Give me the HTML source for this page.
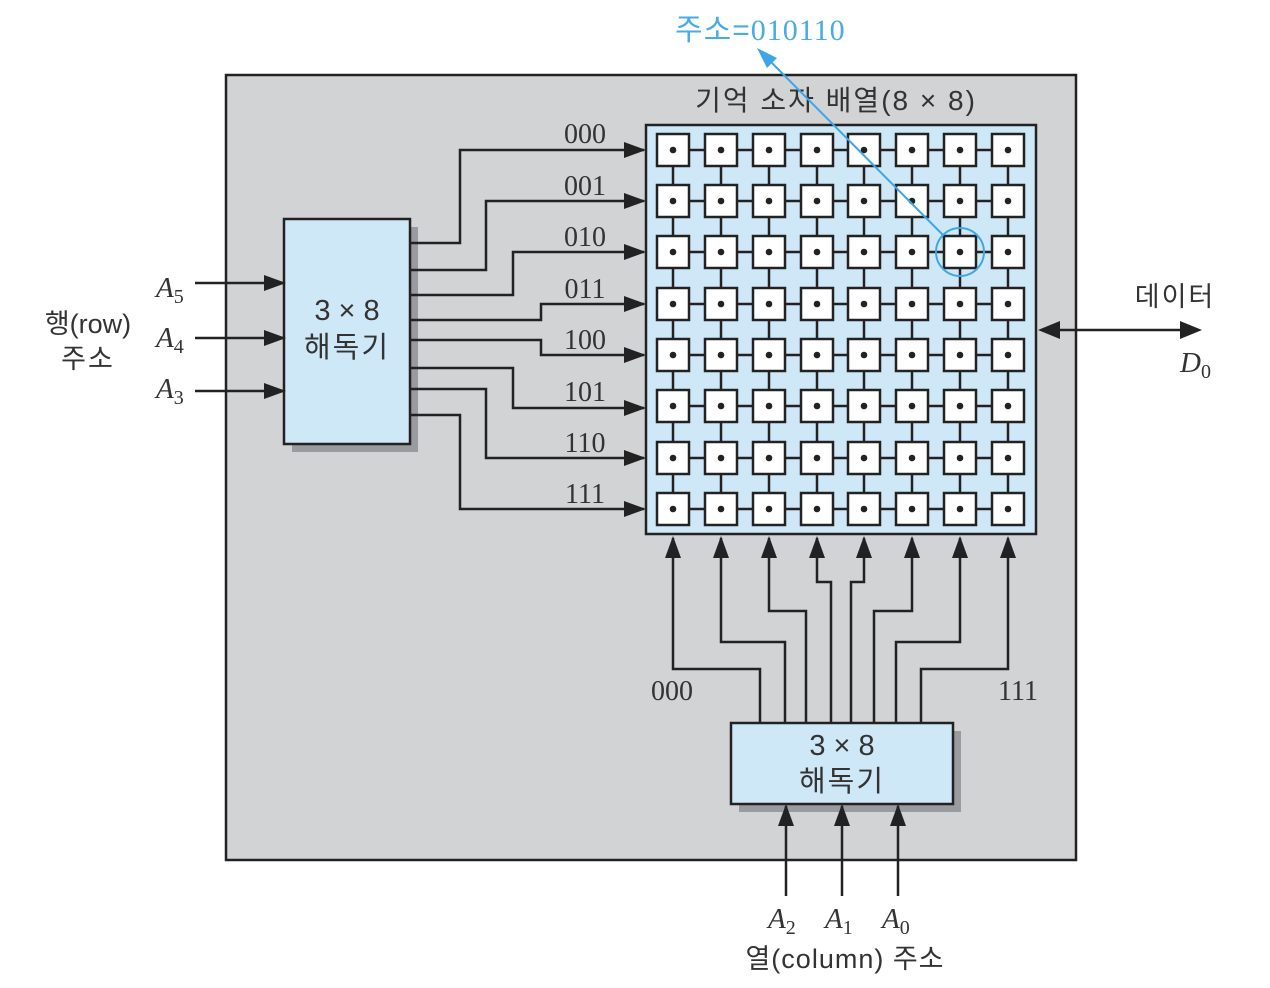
<!DOCTYPE html>
<html><head><meta charset="utf-8"><style>
html,body{margin:0;padding:0;background:#fff;}
svg{display:block;}
text{font-family:"Liberation Sans","Noto Sans CJK KR",sans-serif;}
.serif text, text.serif, tspan.serif{font-family:"Liberation Serif","Noto Serif CJK SC",serif;}
</style></head><body>
<svg width="1270" height="988" viewBox="0 0 1270 988" xmlns="http://www.w3.org/2000/svg">
<defs>
<marker id="ar" markerWidth="22" markerHeight="18" refX="20" refY="9" orient="auto" markerUnits="userSpaceOnUse" viewBox="0 0 22 18"><path d="M0,1 L22,9 L0,17 z" fill="#222"/></marker>
<g id="cell"><rect x="-16" y="-16" width="32" height="32" fill="#fff" stroke="#222" stroke-width="2.5"/><circle cx="0" cy="0" r="3.3" fill="#222"/></g>
</defs>
<!-- outer box -->
<rect x="226" y="75" width="850" height="785" fill="#d2d3d5" stroke="#222" stroke-width="2.5"/>
<text x="836" y="110" font-size="28" fill="#333" text-anchor="middle" letter-spacing="2">기억 소자 배열(8 × 8)</text>
<!-- grid -->
<rect x="646" y="125" width="390" height="409" fill="#cfe8f8" stroke="#222" stroke-width="2.5"/>
<g stroke="#222" stroke-width="2.5">
<line x1="673" y1="150" x2="1008" y2="150"/><line x1="673" y1="201" x2="1008" y2="201"/><line x1="673" y1="252" x2="1008" y2="252"/><line x1="673" y1="304" x2="1008" y2="304"/><line x1="673" y1="355" x2="1008" y2="355"/><line x1="673" y1="406" x2="1008" y2="406"/><line x1="673" y1="458" x2="1008" y2="458"/><line x1="673" y1="509" x2="1008" y2="509"/>
<line x1="673" y1="150" x2="673" y2="509"/><line x1="721" y1="150" x2="721" y2="509"/><line x1="769" y1="150" x2="769" y2="509"/><line x1="817" y1="150" x2="817" y2="509"/><line x1="864" y1="150" x2="864" y2="509"/><line x1="912" y1="150" x2="912" y2="509"/><line x1="960" y1="150" x2="960" y2="509"/><line x1="1008" y1="150" x2="1008" y2="509"/>
</g>
<g>
<use href="#cell" x="673" y="150"/><use href="#cell" x="721" y="150"/><use href="#cell" x="769" y="150"/><use href="#cell" x="817" y="150"/><use href="#cell" x="864" y="150"/><use href="#cell" x="912" y="150"/><use href="#cell" x="960" y="150"/><use href="#cell" x="1008" y="150"/>
<use href="#cell" x="673" y="201"/><use href="#cell" x="721" y="201"/><use href="#cell" x="769" y="201"/><use href="#cell" x="817" y="201"/><use href="#cell" x="864" y="201"/><use href="#cell" x="912" y="201"/><use href="#cell" x="960" y="201"/><use href="#cell" x="1008" y="201"/>
<use href="#cell" x="673" y="252"/><use href="#cell" x="721" y="252"/><use href="#cell" x="769" y="252"/><use href="#cell" x="817" y="252"/><use href="#cell" x="864" y="252"/><use href="#cell" x="912" y="252"/><use href="#cell" x="960" y="252"/><use href="#cell" x="1008" y="252"/>
<use href="#cell" x="673" y="304"/><use href="#cell" x="721" y="304"/><use href="#cell" x="769" y="304"/><use href="#cell" x="817" y="304"/><use href="#cell" x="864" y="304"/><use href="#cell" x="912" y="304"/><use href="#cell" x="960" y="304"/><use href="#cell" x="1008" y="304"/>
<use href="#cell" x="673" y="355"/><use href="#cell" x="721" y="355"/><use href="#cell" x="769" y="355"/><use href="#cell" x="817" y="355"/><use href="#cell" x="864" y="355"/><use href="#cell" x="912" y="355"/><use href="#cell" x="960" y="355"/><use href="#cell" x="1008" y="355"/>
<use href="#cell" x="673" y="406"/><use href="#cell" x="721" y="406"/><use href="#cell" x="769" y="406"/><use href="#cell" x="817" y="406"/><use href="#cell" x="864" y="406"/><use href="#cell" x="912" y="406"/><use href="#cell" x="960" y="406"/><use href="#cell" x="1008" y="406"/>
<use href="#cell" x="673" y="458"/><use href="#cell" x="721" y="458"/><use href="#cell" x="769" y="458"/><use href="#cell" x="817" y="458"/><use href="#cell" x="864" y="458"/><use href="#cell" x="912" y="458"/><use href="#cell" x="960" y="458"/><use href="#cell" x="1008" y="458"/>
<use href="#cell" x="673" y="509"/><use href="#cell" x="721" y="509"/><use href="#cell" x="769" y="509"/><use href="#cell" x="817" y="509"/><use href="#cell" x="864" y="509"/><use href="#cell" x="912" y="509"/><use href="#cell" x="960" y="509"/><use href="#cell" x="1008" y="509"/>
</g>
<!-- row decoder -->
<rect x="292" y="227" width="126" height="225" fill="#9a9b9e"/>
<rect x="284" y="219" width="126" height="225" fill="#cfe8f8" stroke="#222" stroke-width="2.5"/>
<text x="347" y="320" font-size="29" fill="#333" text-anchor="middle">3 × 8</text>
<text x="347" y="357" font-size="29" fill="#333" text-anchor="middle" letter-spacing="2">해독기</text>
<g fill="none" stroke="#222" stroke-width="2.5" marker-end="url(#ar)">
<polyline points="410,243 460,243 460,150 644,150"/>
<polyline points="410,270 486,270 486,201 644,201"/>
<polyline points="410,295 513,295 513,252 644,252"/>
<polyline points="410,320 541,320 541,304 644,304"/>
<polyline points="410,340 541,340 541,355 644,355"/>
<polyline points="410,368 513,368 513,408 644,408"/>
<polyline points="410,389 486,389 486,458 644,458"/>
<polyline points="410,415 460,415 460,509 644,509"/>
<line x1="195" y1="283" x2="284" y2="283"/>
<line x1="195" y1="338" x2="284" y2="338"/>
<line x1="195" y1="391" x2="284" y2="391"/>
</g>
<g class="serif" font-size="28" fill="#333" text-anchor="middle">
<text x="585" y="143">000</text><text x="585" y="195">001</text><text x="585" y="246">010</text><text x="585" y="298">011</text><text x="585" y="349">100</text><text x="585" y="401">101</text><text x="585" y="452">110</text><text x="585" y="503">111</text>
<text x="672" y="700">000</text><text x="1018" y="700">111</text>
</g>
<g class="serif" font-size="29" fill="#333" font-style="italic">
<text x="156" y="297">A<tspan font-size="20" font-style="normal" dy="6">5</tspan></text>
<text x="156" y="347">A<tspan font-size="20" font-style="normal" dy="6">4</tspan></text>
<text x="156" y="398">A<tspan font-size="20" font-style="normal" dy="6">3</tspan></text>
<text x="768" y="928">A<tspan font-size="20" font-style="normal" dy="6">2</tspan></text>
<text x="825" y="928">A<tspan font-size="20" font-style="normal" dy="6">1</tspan></text>
<text x="882" y="928">A<tspan font-size="20" font-style="normal" dy="6">0</tspan></text>
<text x="1180" y="372">D<tspan font-size="20" font-style="normal" dy="6">0</tspan></text>
</g>
<text x="88" y="333" font-size="27" fill="#333" text-anchor="middle">행(row)</text>
<text x="88" y="368" font-size="27" fill="#333" text-anchor="middle" letter-spacing="2">주소</text>
<text x="845" y="968" font-size="27" fill="#333" text-anchor="middle" letter-spacing="1">열(column) 주소</text>
<text x="1175" y="306" font-size="27" fill="#333" text-anchor="middle" letter-spacing="2">데이터</text>
<!-- column decoder -->
<rect x="739" y="731" width="222" height="81" fill="#9a9b9e"/>
<rect x="731" y="723" width="222" height="81" fill="#cfe8f8" stroke="#222" stroke-width="2.5"/>
<text x="842" y="755" font-size="29" fill="#333" text-anchor="middle">3 × 8</text>
<text x="842" y="791" font-size="29" fill="#333" text-anchor="middle" letter-spacing="2">해독기</text>
<g fill="none" stroke="#222" stroke-width="2.5" marker-end="url(#ar)">
<polyline points="760,723 760,669 673,669 673,538"/>
<polyline points="785,723 785,642 721,642 721,538"/>
<polyline points="806,723 806,611 769,611 769,538"/>
<polyline points="831,723 831,582 817,582 817,538"/>
<polyline points="851,723 851,582 864,582 864,538"/>
<polyline points="874,723 874,611 912,611 912,538"/>
<polyline points="896,723 896,642 960,642 960,538"/>
<polyline points="921,723 921,669 1008,669 1008,538"/>
<line x1="786" y1="896" x2="786" y2="806"/>
<line x1="842" y1="896" x2="842" y2="806"/>
<line x1="898" y1="896" x2="898" y2="806"/>
</g>
<!-- data arrow -->
<line x1="1050" y1="330" x2="1190" y2="330" stroke="#222" stroke-width="2.5"/>
<path d="M1038,330 L1060,321 L1060,339 z" fill="#222"/>
<path d="M1202,330 L1180,321 L1180,339 z" fill="#222"/>
<!-- blue address -->
<circle cx="960" cy="252" r="24" fill="none" stroke="#3ea6e6" stroke-width="2"/>
<line x1="943" y1="235" x2="766" y2="57" stroke="#3ea6e6" stroke-width="2"/>
<path d="M757,48 L777,58 L767,68 z" fill="#3ea6e6"/>
<text x="675" y="40" font-size="30" fill="#4aaae6" letter-spacing="1">주소=<tspan class="serif">010110</tspan></text>
</svg>
</body></html>
